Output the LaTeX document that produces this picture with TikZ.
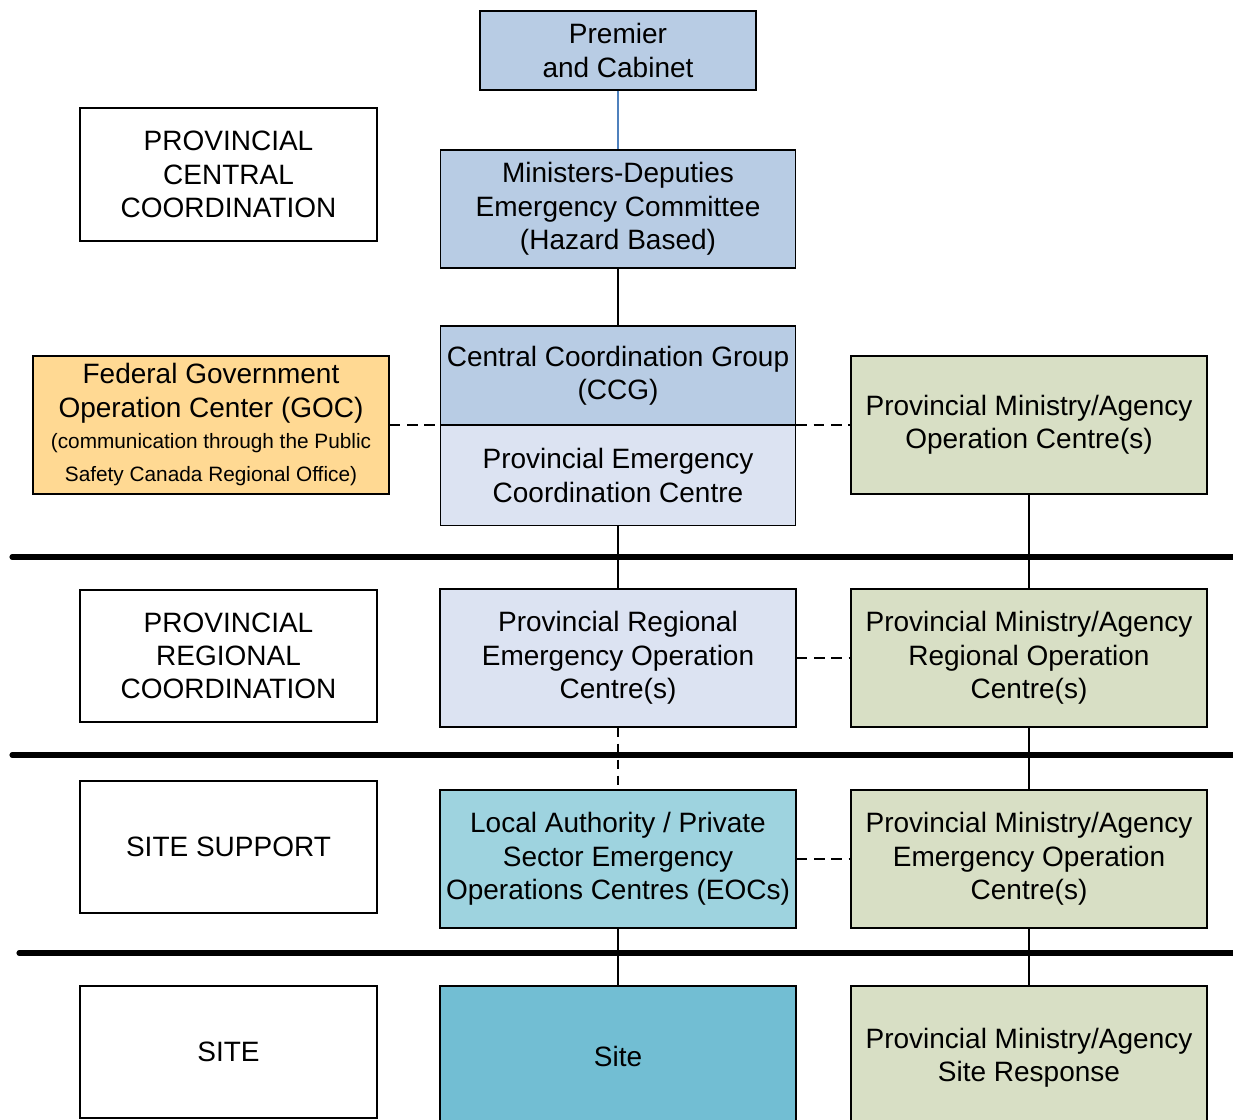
\documentclass[tikz,border=0pt]{standalone}
\usepackage{fontspec}
\setmainfont{Liberation Sans}
\definecolor{cblue}{HTML}{B8CCE4}
\definecolor{clight}{HTML}{DCE3F2}
\definecolor{corange}{HTML}{FFD993}
\definecolor{colive}{HTML}{D8DFC5}
\definecolor{cteal}{HTML}{9ED3DF}
\definecolor{csite}{HTML}{72BED3}
\definecolor{cline}{HTML}{4F81BD}
\newcommand{\bigf}{\fontsize{21}{25}\selectfont}
\newcommand{\smallf}{\fontsize{15.6}{24}\selectfont}
\tikzset{
  box/.style={draw=black, line width=1.1pt, align=center, inner sep=0pt, font=\bigf},
  label box/.style={box, fill=white, line width=1.6pt, minimum width=222.75pt, minimum height=99pt},
  mid box/.style={box, minimum width=266.5pt},
  right box/.style={box, fill=colive, minimum width=267pt, minimum height=103.5pt},
  conn/.style={draw=black, line width=1pt},
  dconn/.style={draw=black, line width=1pt, dash pattern=on 8pt off 5pt},
  sep/.style={draw=black, line width=3.8pt, line cap=round}
}
\begin{document}
\begin{tikzpicture}[x=0.75pt, y=-0.75pt]
\useasboundingbox (0,0) rectangle (1233,1120);
% separators
\coordinate (s1l) at (12,557); \coordinate (s1r) at (1240,557);
\coordinate (s2l) at (12,755); \coordinate (s2r) at (1240,755);
\coordinate (s3l) at (19,953); \coordinate (s3r) at (1240,953);
\draw[sep] (s1l) -- (s1r);
\draw[sep] (s2l) -- (s2r);
\draw[sep] (s3l) -- (s3r);
% left labels
\node[label box, minimum height=99.75pt] (pcc) at (228.5,174.5) {PROVINCIAL\\CENTRAL\\COORDINATION};
\node[label box] (prc) at (228.5,656) {PROVINCIAL\\REGIONAL\\COORDINATION};
\node[label box] (ss) at (228.5,847) {SITE SUPPORT};
\node[label box] (site) at (228.5,1052) {SITE};
% middle column
\node[box, fill=cblue, minimum width=207pt, minimum height=59.25pt] (prem) at (618,50.5) {Premier\\and Cabinet};
\node[mid box, fill=cblue, minimum height=88.5pt] (min) at (618,209) {Ministers-Deputies\\Emergency Committee\\(Hazard Based)};
\node[mid box, fill=cblue, minimum height=74.25pt] (ccg) at (618,375.5) {Central Coordination Group\\(CCG)};
\node[mid box, fill=clight, minimum height=75pt] (pecc) at (618,475.5) {Provincial Emergency\\Coordination Centre};
\node[box, fill=clight, minimum width=267pt, minimum height=103.5pt] (preoc) at (618,658) {Provincial Regional\\Emergency Operation\\Centre(s)};
\node[box, fill=cteal, minimum width=267pt, minimum height=103.5pt] (la) at (618,859) {Local Authority / Private\\Sector Emergency\\Operations Centres (EOCs)};
\node[box, fill=csite, minimum width=267pt, minimum height=108pt, text depth=0pt] (st) at (618,1058) {\raisebox{3pt}{Site}};
% GOC
\node[box, fill=corange, minimum width=267pt, minimum height=103.5pt] (goc) at (211,425) {Federal Government\\Operation Center (GOC)\\[-1.5pt]\smallf(communication through the Public\\\smallf Safety Canada Regional Office)};
% right column
\node[right box] (pma1) at (1029,425) {Provincial Ministry/Agency\\Operation Centre(s)};
\node[right box] (pma2) at (1029,658) {Provincial Ministry/Agency\\Regional Operation\\Centre(s)};
\node[right box] (pma3) at (1029,859) {Provincial Ministry/Agency\\Emergency Operation\\Centre(s)};
\node[right box, minimum height=108pt] (pma4) at (1029,1058) {Provincial Ministry/Agency\\Site Response};
% connectors
\draw[draw=cline, line width=1.2pt] (prem.south) -- (min.north);
\draw[conn] (min.south) -- (ccg.north);
\draw[dconn] (goc.east) -- (goc.east -| ccg.west);
\draw[dconn] (pma1.west -| ccg.east) -- (pma1.west);
\draw[conn] (pecc.south) -- (preoc.north);
\draw[conn] (pma1.south) -- (pma2.north);
\draw[dconn, dash pattern=on 7pt off 5pt] (preoc.south) -- (la.north);
\draw[conn] (pma2.south) -- (pma3.north);
\draw[conn] (la.south) -- (st.north);
\draw[conn] (pma3.south) -- (pma4.north);
\draw[dconn] (preoc.east) -- (pma2.west);
\draw[dconn] (la.east) -- (pma3.west);
\end{tikzpicture}
\end{document}
